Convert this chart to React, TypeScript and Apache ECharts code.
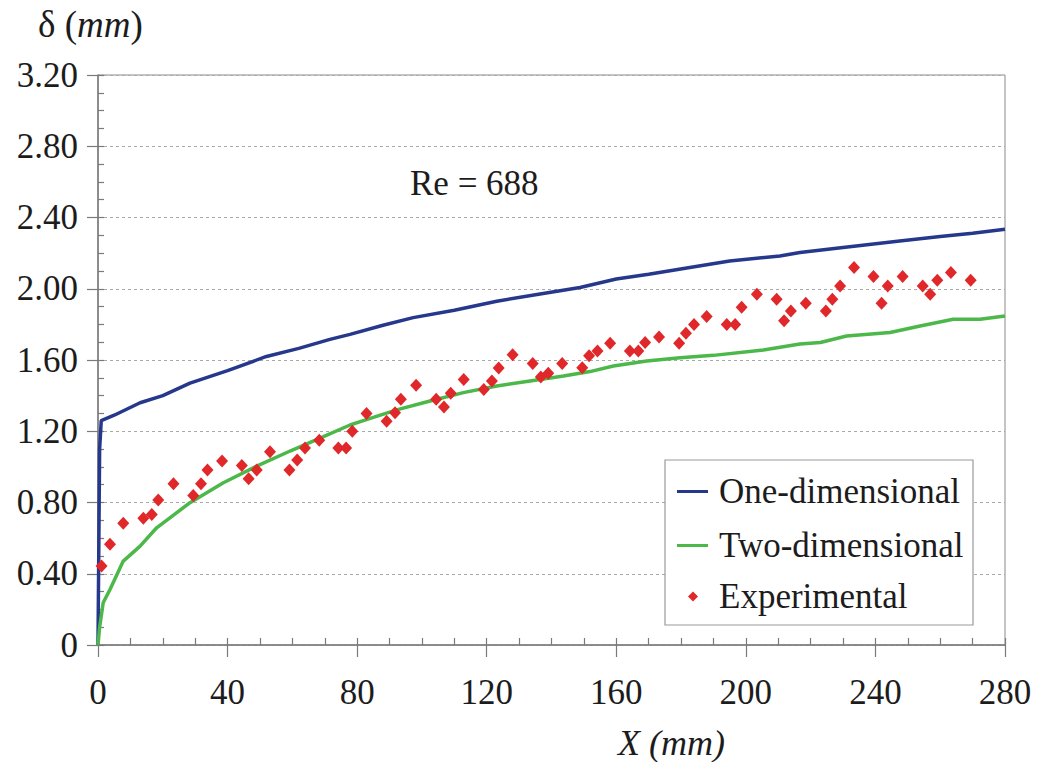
import React, { useEffect, useRef } from "react";
import * as echarts from "echarts";

const xTicks = [0, 40, 80, 120, 160, 200, 240, 280];
const yTicks = [0, 0.4, 0.8, 1.2, 1.6, 2.0, 2.4, 2.8, 3.2];

const oneDimensional: [number, number][] = [
  [0, 0], [0.5, 1.1], [1.0, 1.26], [5, 1.29], [13, 1.36], [20, 1.40], [28.4, 1.47],
  [40, 1.54], [52, 1.62], [62, 1.665], [71.6, 1.716], [77.8, 1.744], [88, 1.795],
  [97.3, 1.838], [110, 1.879], [123.1, 1.93], [136, 1.969], [148.8, 2.007], [160, 2.055],
  [170, 2.081], [182.7, 2.119], [195, 2.156], [210.5, 2.184], [216.7, 2.203], [230, 2.231],
  [247.5, 2.268], [260, 2.293], [270, 2.312], [280, 2.334],
];

const twoDimensional: [number, number][] = [
  [0, 0], [0.5, 0.1], [1.6, 0.237], [3.7, 0.312], [7.8, 0.471], [13, 0.555], [18.1, 0.658],
  [28.4, 0.799], [38.7, 0.911], [49, 1.004], [59.3, 1.089], [69.6, 1.17], [77.8, 1.235],
  [81.9, 1.26], [92.2, 1.32], [102.5, 1.37], [112.8, 1.417], [123.1, 1.454], [133.4, 1.482],
  [143.7, 1.51], [151.9, 1.535], [159.1, 1.566], [169.4, 1.594], [179.7, 1.613], [190, 1.626],
  [205.4, 1.656], [216.7, 1.69], [223, 1.698], [231.1, 1.735], [244.5, 1.754], [253.8, 1.791],
  [264, 1.829], [272.3, 1.829], [280, 1.847],
];

const experimental: [number, number][] = [
  [1.1, 0.443], [3.7, 0.565], [7.8, 0.683], [14.0, 0.712], [16.6, 0.733], [18.6, 0.814],
  [23.3, 0.905], [29.4, 0.84], [31.8, 0.905], [33.8, 0.982], [38.3, 1.033], [44.4, 1.008],
  [46.5, 0.934], [49.0, 0.982], [53.1, 1.085], [59.1, 0.982], [61.5, 1.038], [63.9, 1.106],
  [68.3, 1.15], [74.2, 1.106], [76.6, 1.106], [78.5, 1.2], [82.9, 1.299], [89.1, 1.256],
  [91.7, 1.304], [93.5, 1.379], [98.2, 1.458], [104.4, 1.379], [106.8, 1.336], [108.9, 1.413],
  [112.9, 1.49], [119.1, 1.435], [121.6, 1.482], [123.7, 1.555], [128.0, 1.63], [134.2, 1.58],
  [136.7, 1.505], [139.0, 1.525], [143.3, 1.58], [149.5, 1.557], [151.6, 1.624], [154.2, 1.65],
  [158.1, 1.694], [164.2, 1.65], [166.8, 1.65], [168.9, 1.698], [173.2, 1.729], [179.4, 1.694],
  [181.5, 1.75], [184.0, 1.799], [187.9, 1.844], [194.1, 1.799], [196.7, 1.799], [198.7, 1.896],
  [203.4, 1.969], [209.5, 1.941], [211.8, 1.821], [213.9, 1.875], [218.5, 1.918], [224.7, 1.875],
  [226.7, 1.941], [229.1, 2.016], [233.4, 2.119], [239.4, 2.069], [241.9, 1.918], [243.8, 2.016],
  [248.4, 2.069], [254.6, 2.016], [256.9, 1.969], [259.1, 2.048], [263.3, 2.091], [269.4, 2.048],
];

const FONT = "Liberation Serif";
const TXT = "#1c1c1c";
const AX = "#7a7a7a";
const BLUE = "#26388c";
const GREEN = "#4cb84a";
const RED = "#e0282a";

export default function App() {
  const ref = useRef<HTMLDivElement>(null);
  useEffect(() => {
    if (!ref.current) return;
    const chart = echarts.init(ref.current, undefined, { renderer: "svg" });
    const xMin = xTicks[0], xMax = xTicks[xTicks.length - 1];
    const yMin = yTicks[0], yMax = yTicks[yTicks.length - 1];
    const xInt = xTicks[1] - xTicks[0];
    const yInt = yTicks[1] - yTicks[0];
    chart.setOption({
      animation: false,
      backgroundColor: "#ffffff",
      textStyle: { fontFamily: FONT },
      grid: {
        left: 98, right: 36, top: 75, bottom: 117,
        show: true, borderColor: "#8a8a8a", borderWidth: 1, backgroundColor: "transparent",
      },
      xAxis: [
        {
          type: "value", min: xMin, max: xMax, interval: xInt, position: "bottom",
          axisLine: { lineStyle: { color: AX, width: 1.5 } },
          axisTick: { show: true, inside: false, length: 12, lineStyle: { color: AX, width: 1.2 } },
          minorTick: { show: false },
          splitLine: { show: false },
          axisLabel: { fontFamily: FONT, fontSize: 35, color: TXT, margin: 30 },
        },
        {
          type: "value", min: xMin, max: xMax, interval: xInt, position: "bottom",
          axisLine: { show: false },
          axisTick: { show: true, inside: true, length: 7, lineStyle: { color: AX, width: 1.2 } },
          minorTick: { show: true, splitNumber: 4, length: 7, lineStyle: { color: AX, width: 1.2 } },
          splitLine: { show: false },
          axisLabel: { show: false },
        },
      ],
      yAxis: [
        {
          type: "value", min: yMin, max: yMax, interval: yInt, position: "left",
          axisLine: { show: true, lineStyle: { color: AX, width: 1.5 } },
          axisTick: { show: true, inside: false, length: 11, lineStyle: { color: AX, width: 1.2 } },
          minorTick: { show: false },
          splitLine: { show: true, lineStyle: { color: "#aaaaaa", type: [3, 3], width: 1 } },
          axisLabel: {
            fontFamily: FONT, fontSize: 35, color: TXT, margin: 20,
            formatter: (v: number) => (v === 0 ? "0" : v.toFixed(2)),
          },
        },
        {
          type: "value", min: yMin, max: yMax, interval: yInt, position: "left",
          axisLine: { show: false },
          axisTick: { show: true, inside: true, length: 6, lineStyle: { color: AX, width: 1.2 } },
          minorTick: { show: true, splitNumber: 4, length: 6, lineStyle: { color: AX, width: 1.2 } },
          splitLine: { show: false },
          axisLabel: { show: false },
        },
      ],
      legend: [
        {
          orient: "vertical", left: 677, top: 474, z: 20,
          padding: 0, itemGap: 19, itemWidth: 31, itemHeight: 3,
          icon: "rect",
          textStyle: { fontFamily: FONT, fontSize: 35, color: TXT, padding: [0, 0, 0, 6] },
          data: ["One-dimensional", "Two-dimensional"],
        },
        {
          orient: "vertical", left: 688, top: 579, z: 20,
          padding: 0, itemWidth: 10, itemHeight: 10,
          icon: "diamond",
          itemStyle: { opacity: 1 },
          textStyle: { fontFamily: FONT, fontSize: 35, color: TXT, padding: [0, 0, 0, 16] },
          data: ["Experimental"],
        },
      ],
      series: [
        {
          name: "One-dimensional", type: "line", data: oneDimensional,
          showSymbol: false, symbol: "none", smooth: false,
          lineStyle: { color: BLUE, width: 3.5 }, itemStyle: { color: BLUE }, z: 3,
        },
        {
          name: "Two-dimensional", type: "line", data: twoDimensional,
          showSymbol: false, symbol: "none", smooth: false,
          lineStyle: { color: GREEN, width: 3.5 }, itemStyle: { color: GREEN }, z: 3,
        },
        {
          name: "Experimental", type: "scatter", data: experimental,
          symbol: "diamond", symbolSize: [12, 13],
          itemStyle: { color: RED, opacity: 1 }, z: 4,
        },
      ],
      graphic: {
        z: 1,
        elements: [
          {
            type: "rect", z: 1,
            shape: { x: 665, y: 460, width: 308, height: 165 },
            style: { fill: "#ffffff", stroke: "#9a9a9a", lineWidth: 1.2 },
          },
          {
            type: "text", left: 38, top: 6, z: 1,
            style: {
              text: "{n|δ (}{i|mm}{n|)}",
              rich: {
                n: { fontFamily: FONT, fontSize: 37, fill: TXT },
                i: { fontFamily: FONT, fontSize: 37, fontStyle: "italic", fill: TXT },
              },
            },
          },
          {
            type: "text", left: 410, top: 166, z: 1,
            style: { text: "Re = 688", fontFamily: FONT, fontSize: 35, fill: TXT },
          },
          {
            type: "text", left: 618, top: 725, z: 1,
            style: { text: "X (mm)", fontFamily: FONT, fontSize: 36, fontStyle: "italic", fill: TXT },
          },
        ],
      },
    });
    return () => chart.dispose();
  }, []);
  return (
    <div
      ref={ref}
      style={{ position: "fixed", left: 0, top: 0, width: 1041, height: 762, background: "#fff" }}
    />
  );
}
